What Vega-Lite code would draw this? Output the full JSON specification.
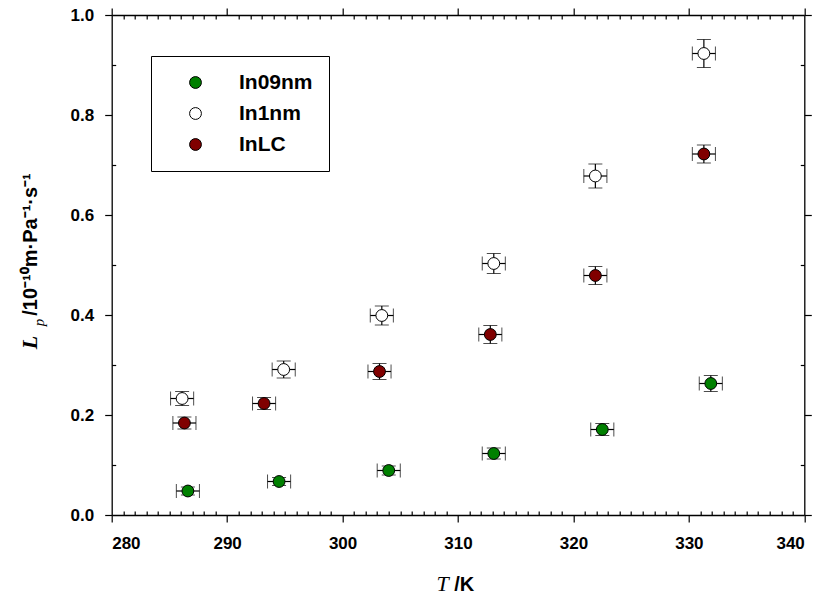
{
  "$schema": "https://vega.github.io/schema/vega-lite/v6.json",
  "width": 692.6,
  "height": 500,
  "autosize": {"type": "none"},
  "padding": {"left": 111.7, "top": 15, "right": 19.7, "bottom": 86},
  "config": {
    "view": {"stroke": null},
    "axis": {
      "grid": false,
      "zindex": 1,
      "domainColor": "black",
      "domainWidth": 1.3,
      "tickColor": "black",
      "tickWidth": 1.2,
      "labelFont": "Liberation Sans",
      "labelFontWeight": "bold",
      "labelFontSize": 17,
      "labelColor": "black",
      "titleColor": "black"
    }
  },
  "data": {
    "values": [
      {"series": "In09nm", "T": 286.6, "L": 0.048, "dT": 1.0, "dL": 0.008},
      {"series": "In09nm", "T": 294.5, "L": 0.067, "dT": 1.0, "dL": 0.008},
      {"series": "In09nm", "T": 304.0, "L": 0.089, "dT": 1.0, "dL": 0.009},
      {"series": "In09nm", "T": 313.1, "L": 0.123, "dT": 1.0, "dL": 0.011},
      {"series": "In09nm", "T": 322.5, "L": 0.171, "dT": 1.0, "dL": 0.012},
      {"series": "In09nm", "T": 331.9, "L": 0.263, "dT": 1.0, "dL": 0.016},
      {"series": "In1nm", "T": 286.1, "L": 0.233, "dT": 1.0, "dL": 0.014},
      {"series": "In1nm", "T": 294.9, "L": 0.291, "dT": 1.0, "dL": 0.017},
      {"series": "In1nm", "T": 303.4, "L": 0.399, "dT": 1.0, "dL": 0.019},
      {"series": "In1nm", "T": 313.1, "L": 0.503, "dT": 1.0, "dL": 0.020},
      {"series": "In1nm", "T": 321.9, "L": 0.678, "dT": 1.0, "dL": 0.024},
      {"series": "In1nm", "T": 331.3, "L": 0.923, "dT": 1.0, "dL": 0.028},
      {"series": "InLC", "T": 286.3, "L": 0.184, "dT": 1.0, "dL": 0.012},
      {"series": "InLC", "T": 293.2, "L": 0.223, "dT": 1.0, "dL": 0.012},
      {"series": "InLC", "T": 303.2, "L": 0.287, "dT": 1.0, "dL": 0.016},
      {"series": "InLC", "T": 312.8, "L": 0.361, "dT": 1.0, "dL": 0.018},
      {"series": "InLC", "T": 321.9, "L": 0.479, "dT": 1.0, "dL": 0.018},
      {"series": "InLC", "T": 331.3, "L": 0.722, "dT": 1.0, "dL": 0.018}
    ]
  },
  "resolve": {"axis": {"x": "independent", "y": "independent"}},
  "layer": [
    {
      "mark": {"type": "point", "opacity": 0},
      "encoding": {
        "x": {
          "field": "T", "type": "quantitative", "scale": {"domain": [280, 340], "nice": false, "zero": false},
          "axis": {
            "orient": "bottom", "labels": false, "domain": false, "title": null, "tickSize": 4, "offset": -4, "zindex": 2,
            "values": [281, 282, 283, 284, 285, 286, 287, 288, 289, 291, 292, 293, 294, 295, 296, 297, 298, 299, 301, 302, 303, 304, 305, 306, 307, 308, 309, 311, 312, 313, 314, 315, 316, 317, 318, 319, 321, 322, 323, 324, 325, 326, 327, 328, 329, 331, 332, 333, 334, 335, 336, 337, 338, 339]
          }
        },
        "y": {
          "field": "L", "type": "quantitative", "scale": {"domain": [0, 1], "nice": false},
          "axis": {"orient": "left", "labels": false, "domain": false, "title": null, "tickSize": 4, "offset": -4, "zindex": 2, "values": [0.1, 0.3, 0.5, 0.7, 0.9]}
        }
      }
    },
    {
      "mark": {"type": "point", "opacity": 0},
      "encoding": {
        "x": {
          "field": "T", "type": "quantitative",
          "axis": {
            "orient": "top", "labels": false, "domain": false, "title": null, "tickSize": 4, "offset": -4, "zindex": 2,
            "values": [281, 282, 283, 284, 285, 286, 287, 288, 289, 291, 292, 293, 294, 295, 296, 297, 298, 299, 301, 302, 303, 304, 305, 306, 307, 308, 309, 311, 312, 313, 314, 315, 316, 317, 318, 319, 321, 322, 323, 324, 325, 326, 327, 328, 329, 331, 332, 333, 334, 335, 336, 337, 338, 339]
          }
        },
        "y": {
          "field": "L", "type": "quantitative",
          "axis": {"orient": "right", "labels": false, "domain": false, "title": null, "tickSize": 4, "offset": -4, "zindex": 2, "values": [0.1, 0.3, 0.5, 0.7, 0.9]}
        }
      }
    },
    {
      "mark": {"type": "errorbar", "color": "black", "rule": {"strokeWidth": 1.2}, "ticks": {"size": 14, "color": "black"}},
      "encoding": {
        "x": {"field": "T", "type": "quantitative", "axis": null},
        "xError": {"field": "dT"},
        "y": {"field": "L", "type": "quantitative", "axis": null}
      }
    },
    {
      "mark": {"type": "errorbar", "color": "black", "rule": {"strokeWidth": 1.2}, "ticks": {"size": 14, "color": "black"}},
      "encoding": {
        "y": {"field": "L", "type": "quantitative", "axis": null},
        "yError": {"field": "dL"},
        "x": {"field": "T", "type": "quantitative", "axis": null}
      }
    },
    {
      "mark": {"type": "circle", "size": 140, "opacity": 1, "stroke": "black", "strokeWidth": 1},
      "encoding": {
        "x": {
          "field": "T", "type": "quantitative",
          "axis": {
            "orient": "bottom", "values": [280, 290, 300, 310, 320, 330, 340],
            "tickSize": 7, "labelPadding": 13, "domain": true,
            "title": "/K", "titleFont": "Liberation Sans", "titleFontWeight": "bold", "titleFontSize": 20,
            "titleX": 352, "titleY": 75, "titleAlign": "center", "titleBaseline": "alphabetic"
          }
        },
        "y": {
          "field": "L", "type": "quantitative",
          "axis": {
            "orient": "left", "values": [0, 0.2, 0.4, 0.6, 0.8, 1.0], "format": ".1f",
            "tickSize": 7, "labelPadding": 11, "domain": true,
            "title": "/10⁻¹⁰m·Pa⁻¹·s⁻¹", "titleFont": "Liberation Sans", "titleFontWeight": "bold", "titleFontSize": 20,
            "titleAngle": -90, "titleX": -75, "titleY": 229, "titleAlign": "center", "titleBaseline": "alphabetic"
          }
        },
        "color": {
          "field": "series", "type": "nominal",
          "scale": {"domain": ["In09nm", "In1nm", "InLC"], "range": ["#008000", "#ffffff", "#800000"]},
          "legend": {
            "title": null, "orient": "none", "legendX": 39.3, "legendY": 41,
            "strokeColor": "black", "fillColor": "white",
            "padding": 16, "symbolOffset": 18, "labelOffset": 33,
            "symbolType": "circle", "symbolSize": 140, "symbolStrokeColor": "black", "symbolStrokeWidth": 1,
            "labelFont": "Liberation Sans", "labelFontWeight": "bold", "labelFontSize": 21, "labelColor": "black",
            "rowPadding": 9
          }
        }
      }
    },
    {
      "mark": {"type": "point", "opacity": 0},
      "encoding": {
        "x": {
          "field": "T", "type": "quantitative",
          "axis": {
            "orient": "top", "values": [280, 290, 300, 310, 320, 330, 340], "labels": false, "tickSize": 7, "domain": true,
            "title": "T", "titleFont": "Liberation Serif", "titleFontStyle": "italic", "titleFontWeight": "normal", "titleFontSize": 22,
            "titleX": 330.5, "titleY": 575, "titleAlign": "center", "titleBaseline": "alphabetic"
          }
        },
        "y": {
          "field": "L", "type": "quantitative",
          "axis": {
            "orient": "right", "values": [0, 0.2, 0.4, 0.6, 0.8, 1.0], "labels": false, "tickSize": 7, "domain": true,
            "title": "p", "titleFont": "Liberation Serif", "titleFontStyle": "italic", "titleFontWeight": "normal", "titleFontSize": 15,
            "titleAngle": -90, "titleX": -761, "titleY": 307, "titleAlign": "center", "titleBaseline": "alphabetic"
          }
        }
      }
    },
    {
      "mark": {"type": "point", "opacity": 0},
      "encoding": {
        "y": {
          "field": "L", "type": "quantitative",
          "axis": {
            "orient": "left", "ticks": false, "labels": false, "domain": false,
            "title": "L", "titleFont": "Liberation Serif", "titleFontStyle": "italic", "titleFontWeight": "bold", "titleFontSize": 22,
            "titleAngle": -90, "titleX": -75, "titleY": 327, "titleAlign": "center", "titleBaseline": "alphabetic"
          }
        },
        "x": {"field": "T", "type": "quantitative", "axis": null}
      }
    }
  ]
}
